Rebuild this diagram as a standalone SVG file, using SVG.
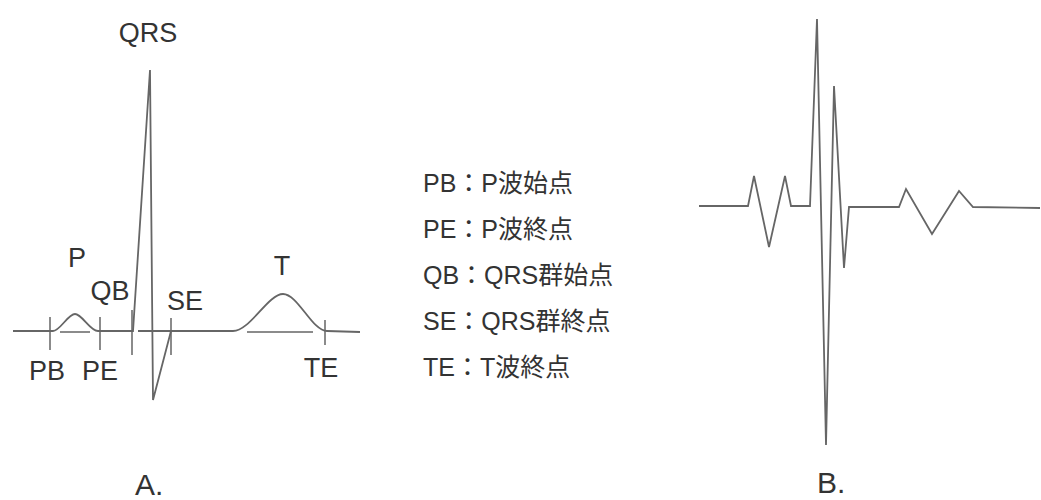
<svg xmlns="http://www.w3.org/2000/svg" width="1041" height="500" viewBox="0 0 1041 500">
<style>
.w{fill:none;stroke:#666;stroke-width:1.8;stroke-linejoin:miter;stroke-linecap:butt}
.t{fill:none;stroke:#666;stroke-width:1.5}
.lbl{font-family:"Liberation Sans","Noto Sans CJK JP",sans-serif;font-size:27px;fill:#333;text-anchor:middle}
.leg{font-family:"Liberation Sans","Noto Sans CJK JP",sans-serif;font-size:25px;fill:#333}
.cap{font-family:"Liberation Sans","Noto Sans CJK JP",sans-serif;font-size:30px;fill:#333}
</style>
<rect width="1041" height="500" fill="#fff"/>
<g id="panelA">
<g id="waveA">
<path class="w" d="M13,331 L53,331 C60,331 68,314 75,314 C82,314 90,331 98,331 L133,331 L150,70 L153,400 L171,331"/>
<path class="w" d="M138,331 L233,331 C250,331 268,294 283,294 C298,294 312,331 327,331 L360,332"/>
<path class="t" d="M60,332 L90,332 M247,332 L313,332"/>
</g>
<g id="ticks">
<path class="t" d="M50,317 L50,350 M100,317 L100,350 M132,310 L132,355 M171,318 L171,355 M325,320 L325,345"/>
</g>
<g id="labelsA">
<text class="lbl" x="148" y="42">QRS</text>
<text class="lbl" x="77" y="267">P</text>
<text class="lbl" x="110" y="300">QB</text>
<text class="lbl" x="185" y="310">SE</text>
<text class="lbl" x="282" y="275">T</text>
<text class="lbl" x="47" y="380">PB</text>
<text class="lbl" x="100" y="380">PE</text>
<text class="lbl" x="321" y="377">TE</text>
<text class="cap" x="135" y="495">A.</text>
</g>
</g>
<g id="legend">
<text class="leg" x="423" y="192">PB：P波始点</text>
<text class="leg" x="423" y="238">PE：P波終点</text>
<text class="leg" x="423" y="284">QB：QRS群始点</text>
<text class="leg" x="423" y="330">SE：QRS群終点</text>
<text class="leg" x="423" y="376">TE：T波終点</text>
</g>
<g id="panelB">
<path class="w" d="M699,206 L748,206 L754,176 L769,247 L785,176 L791,206 L810,206 L817,19 L826,445 L834,86 L844,268 L849,207 L899,207 L906,189 L932,234 L959,191 L973,207 L1040,208"/>
<text class="cap" x="817" y="493">B.</text>
</g>
</svg>
